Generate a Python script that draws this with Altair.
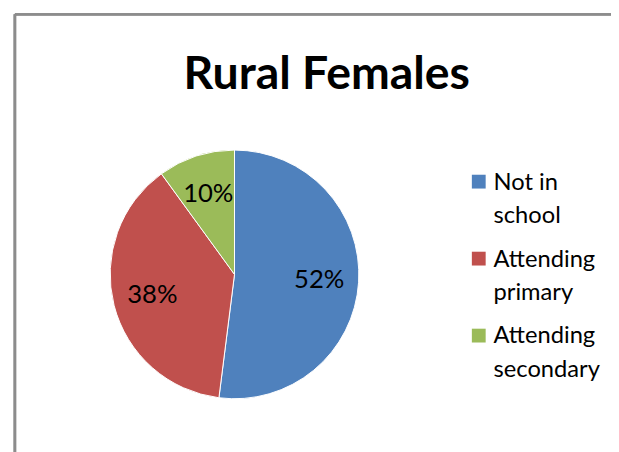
import altair as alt
import pandas as pd

categories = ["Not in school", "Attending primary", "Attending secondary"]
legend_lines = [["Not in", "school"], ["Attending", "primary"], ["Attending", "secondary"]]
values = [52, 38, 10]
labels = ["52%", "38%", "10%"]
colors = ["#4F81BD", "#C0504D", "#9BBB59"]

df = pd.DataFrame({
    "category": categories,
    "value": values,
    "label": labels,
    "legend_text": ["\n".join(l) for l in legend_lines],
    "idx": list(range(len(categories))),
})

cx, cy = 229.5, 167
color_enc = alt.Color(
    "category:N",
    scale=alt.Scale(domain=categories, range=colors),
    legend=None,
)

base = alt.Chart(df).encode(
    theta=alt.Theta("value:Q", stack=True),
    order=alt.Order("idx:O"),
)

arc = base.mark_arc(outerRadius=126, stroke="white", strokeWidth=1).encode(
    x=alt.value(cx), y=alt.value(cy), color=color_enc,
)

text = base.mark_text(radius=86, font="Lato", fontSize=26, color="#000000").encode(
    x=alt.value(cx), y=alt.value(cy), text="label:N"
)

legend_y = alt.Y(
    "category:N", sort=categories, axis=None,
    scale=alt.Scale(type="point", range=[73, 229], padding=0),
)
legend_sym = alt.Chart(df).mark_square(size=196, opacity=1).encode(
    x=alt.value(477), y=legend_y, color=color_enc,
)
legend_txt = alt.Chart(df).mark_text(
    font="Lato", fontSize=24, lineHeight=34, align="left", baseline="alphabetic",
    dy=8, lineBreak="\n", color="#000000",
).encode(x=alt.value(492), y=legend_y, text="legend_text:N")

frame_top = alt.Chart(df).mark_rule(color="#8c8c8c", strokeWidth=2.5).encode(
    x=alt.value(7), x2=alt.value(720), y=alt.value(-96.5)
)
frame_left = alt.Chart(df).mark_rule(color="#8c8c8c", strokeWidth=2.5).encode(
    x=alt.value(7), y=alt.value(-96.5), y2=alt.value(500)
)

chart = alt.layer(frame_top, frame_left, arc, text, legend_sym, legend_txt).properties(
    width=611, height=344,
    padding={"left": 0, "top": 100, "right": 0, "bottom": 0},
    autosize=alt.AutoSizeParams(type="none"),
    title=alt.TitleParams(
        "Rural Females", font="Lato", fontSize=47, fontWeight="bold",
        color="#000000", anchor="middle", frame="group", baseline="alphabetic",
        offset=-124, dx=17.5,
    ),
).configure_view(stroke=None)

chart.save("out.html", embed_options={"renderer": "svg", "actions": False})
